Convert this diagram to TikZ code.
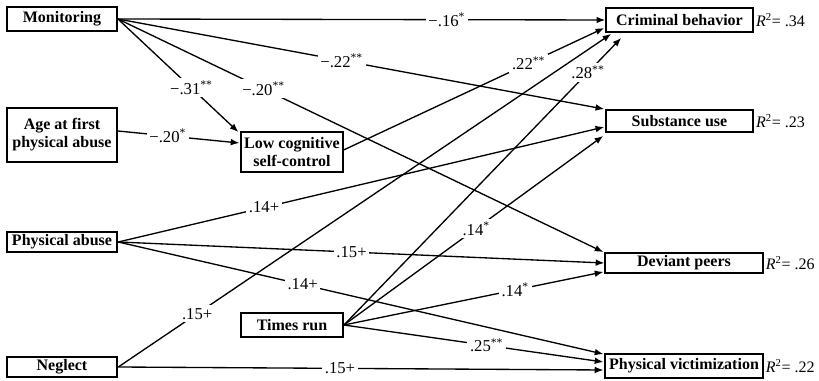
\documentclass[tikz,border=0pt]{standalone}
\usepackage{fontspec}
\setmainfont{Liberation Serif}
\usepackage{tikz}
\usetikzlibrary{positioning, arrows.meta, calc}

\begin{document}
\begin{tikzpicture}[x=0.75pt, y=-0.75pt,
  every node/.style={font=\fontsize{12.5}{13.5}\selectfont},
  box/.style={draw, line width=1.4pt, inner sep=1pt, align=center, font=\fontsize{12}{13.5}\selectfont\bfseries},
  link/.style={line width=1pt, -{Latex[length=6.5pt, width=5pt]}},
  coef/.style={fill=white, inner sep=2pt},
  rsq/.style={inner sep=0.5pt, font=\fontsize{12}{13.5}\selectfont}]
  \useasboundingbox (0,0) rectangle (819,381);
  % left side
  \node[box, minimum width=82.5pt, minimum height=18.5pt] (mon) at (62,19) {Monitoring};
  \node[box, minimum width=82.5pt, minimum height=40pt] (age) at (62,135) {Age at first\\physical abuse};
  \node[box, minimum width=83pt, minimum height=15.5pt] (phys) at (62,242) {Physical abuse};
  \node[box, minimum width=83pt, minimum height=15pt] (neg) at (62,367) {Neglect};
  % middle
  \node[box, minimum width=76pt, minimum height=30pt] (low) at (292,152) {Low cognitive\\self-control};
  \node[box, minimum width=76.5pt, minimum height=18pt] (times) at (292,325) {Times run};
  % right side
  \node[box, minimum width=110pt, minimum height=18pt] (crim) at (679.5,20) {Criminal behavior};
  \node[box, minimum width=110pt, minimum height=16.5pt] (subst) at (679.5,121) {Substance use};
  \node[box, minimum width=118pt, minimum height=15pt] (dev) at (684,263) {Deviant peers};
  \node[box, minimum width=118pt, minimum height=18pt] (vict) at (684,366) {Physical victimization};
  % R squared
  \node[rsq, right=1pt of crim] (rcrim) {\textit{R}\textsuperscript{2}= .34};
  \node[rsq, right=1pt of subst] (rsubst) {\textit{R}\textsuperscript{2}= .23};
  \node[rsq, right=1pt of dev] (rdev) {\textit{R}\textsuperscript{2}= .26};
  \node[rsq, right=1pt of vict] (rvict) {\textit{R}\textsuperscript{2}= .22};
  % monitoring paths
  \draw[link] (mon.east) -- node[coef, pos=0.675]{−.16\textsuperscript{*}} (crim.west);
  \draw[link] (mon.east) -- node[coef, pos=0.46]{−.22\textsuperscript{**}} ($(subst.north west)+(-1,0)$);
  \draw[link] (mon.east) -- node[coef, pos=0.61]{−.31\textsuperscript{**}} ($(low.north west)+(-2,1)$);
  \draw[link] (mon.east) -- node[coef, pos=0.30]{−.20\textsuperscript{**}} ($(dev.north west)+(-1,0)$);
  \draw[link] ($(age.east)+(0,-4)$) -- node[coef, pos=0.41]{−.20\textsuperscript{*}} ($(low.west)+(-1,-9)$);
  \draw[link] ($(low.east)+(0,-2)$) -- node[coef, pos=0.71]{.22\textsuperscript{**}} ($(crim.west)+(-1,8)$);
  % physical abuse paths
  \draw[link] (phys.east) -- node[coef, pos=0.30]{.14+} ($(subst.west)+(-1,6)$);
  \draw[link] (phys.east) -- node[coef, pos=0.48]{.15+} (dev.west);
  \draw[link] (phys.east) -- node[coef, pos=0.38]{.14+} ($(vict.north west)+(-1,1)$);
  % neglect paths
  \draw[link] (neg.east) -- node[coef, pos=0.16]{.15+} ($(crim.south west)+(6,1)$);
  \draw[link] (neg.east) -- node[coef, pos=0.457]{.15+} ($(vict.west)+(-1,4)$);
  % times run paths
  \draw[link] (times.east) -- node[coef, pos=0.88]{.28\textsuperscript{**}} ($(crim.south west)+(16,5)$);
  \draw[link] (times.east) -- node[coef, pos=0.51]{.14\textsuperscript{*}} ($(subst.south west)+(-2,3)$);
  \draw[link] (times.east) -- node[coef, pos=0.66]{.14\textsuperscript{*}} ($(dev.south west)+(-1,-2)$);
  \draw[link] (times.east) -- node[coef, pos=0.55]{.25\textsuperscript{**}} ($(vict.west)+(-1,-4)$);
\end{tikzpicture}
\end{document}
